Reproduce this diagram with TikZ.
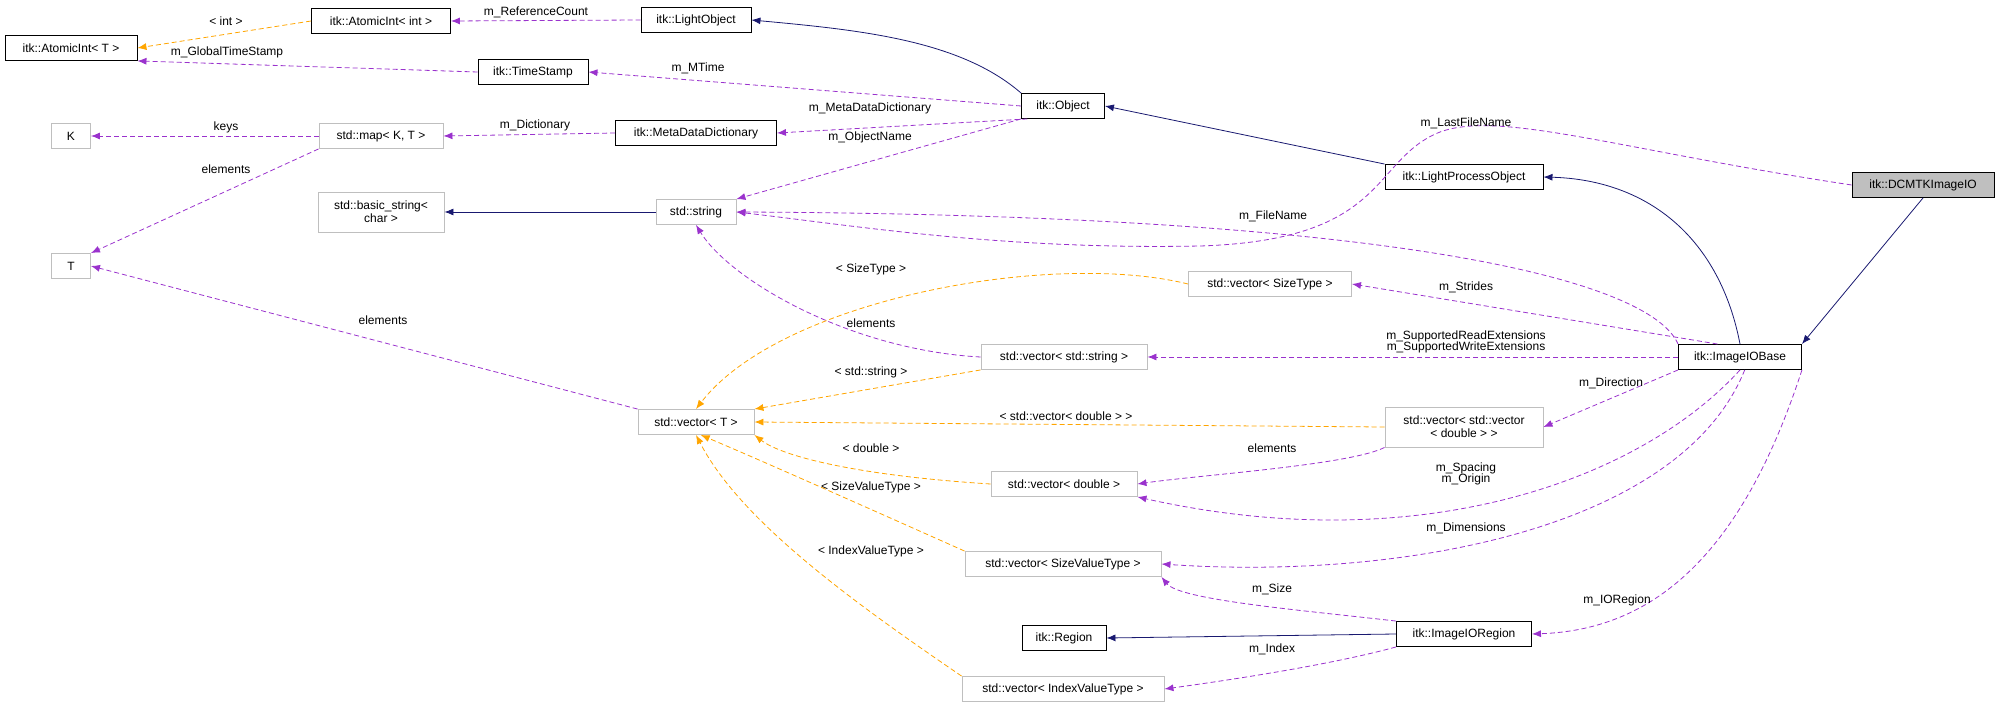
\documentclass[tikz,border=0pt]{standalone}
\usepackage{fontspec}
\setmainfont{Liberation Sans}
\usetikzlibrary{arrows.meta}
\definecolor{pu}{HTML}{9A32CD}
\definecolor{or}{HTML}{FFA500}
\definecolor{nv}{HTML}{191970}
\definecolor{gb}{HTML}{BFBFBF}
\begin{document}
\begin{tikzpicture}[x=1pt,y=-1pt,
  every node/.style={font=\fontsize{12}{13}\selectfont},
  cls/.style={draw=black,line width=0.9pt,fill=white,minimum height=25pt,inner xsep=3pt,inner ysep=2pt,align=center},
  ext/.style={draw=gb,line width=0.9pt,fill=white,minimum height=25pt,inner xsep=3pt,inner ysep=2pt,align=center},
  lbl/.style={inner sep=1pt,align=center},
  tip/.style={-{Latex[length=9pt,width=7pt]}},
  use/.style={tip,draw=pu,dash pattern=on 5pt off 3pt,line width=0.8pt},
  tmpl/.style={tip,draw=or,dash pattern=on 5pt off 3pt,line width=0.8pt},
  inh/.style={tip,draw=nv,line width=0.8pt}]
\useasboundingbox (0,0) rectangle (2000,708);
\node[cls,minimum width=132pt] (ait) at (71,48) {itk::AtomicInt< T >};
\node[cls,minimum width=139pt] (aii) at (381,21) {itk::AtomicInt< int >};
\node[cls,minimum width=110pt] (lo) at (696,20) {itk::LightObject};
\node[cls,minimum width=110pt] (ts) at (533,72) {itk::TimeStamp};
\node[ext,minimum width=39pt] (k) at (71,136) {K};
\node[ext,minimum width=124pt] (map) at (381,136) {std::map< K, T >};
\node[cls,minimum width=161pt] (mdd) at (696,133) {itk::MetaDataDictionary};
\node[ext,minimum width=126pt,minimum height=40pt] (bs) at (381,212) {std::basic\_string<\\char >};
\node[ext,minimum width=80pt] (str) at (696,212) {std::string};
\node[ext,minimum width=39pt] (t) at (71,266) {T};
\node[cls,minimum width=83pt] (obj) at (1063,106) {itk::Object};
\node[cls,minimum width=158pt] (lpo) at (1464,177) {itk::LightProcessObject};
\node[cls,minimum width=142pt,fill=gb] (dc) at (1923,185) {itk::DCMTKImageIO};
\node[ext,minimum width=163pt] (vst) at (1270,284) {std::vector< SizeType >};
\node[cls,minimum width=123pt] (iob) at (1740,357) {itk::ImageIOBase};
\node[ext,minimum width=116pt] (vt) at (696,422) {std::vector< T >};
\node[ext,minimum width=166pt] (vs) at (1064,357) {std::vector< std::string >};
\node[ext,minimum width=158pt,minimum height=40pt] (vvd) at (1464,427) {std::vector< std::vector\\< double > >};
\node[ext,minimum width=146pt] (vd) at (1064,484) {std::vector< double >};
\node[ext,minimum width=196pt] (vsv) at (1063,564) {std::vector< SizeValueType >};
\node[cls,minimum width=84pt] (reg) at (1064,638) {itk::Region};
\node[cls,minimum width=135pt] (ior) at (1464,634) {itk::ImageIORegion};
\node[ext,minimum width=202pt] (viv) at (1063,689) {std::vector< IndexValueType >};

\draw[tmpl] (aii.west) -- (ait.east);
\draw[use] (lo.west) -- (aii.east);
\draw[use] (ts.west) -- (ait.south east);
\draw[inh] (obj.north west) .. controls (960,40) and (860,30) .. (lo.east);
\draw[use] (obj.west) -- (ts.east);
\draw[use] (obj.200) -- (mdd.east);
\draw[use] (obj.south west) -- (str.north east);
\draw[use] (mdd.west) -- (map.east);
\draw[use] (map.west) -- (k.east);
\draw[use] (map.south west) -- (t.north east);
\draw[inh] (str.west) -- (bs.east);
\draw[inh] (lpo.north west) -- (obj.east);
\draw[inh] (iob.north) .. controls (1720,240) and (1650,180) .. (lpo.east);
\draw[inh] (dc.south) -- (iob.north east);
\draw[use] (dc.west) .. controls (1620,150) and (1500,110) .. (1440,132) .. controls (1370,160) and (1390,240) .. (1200,246) .. controls (1000,250) and (850,225) .. (str.east);
\draw[use] (iob.north west) .. controls (1650,280) and (1400,215) .. (str.east);
\draw[use] (iob.150) -- (vst.east);
\draw[use] (iob.west) -- (vs.east);
\draw[use] (iob.south west) -- (vvd.east);
\draw[use] (iob.south) .. controls (1640,480) and (1420,560) .. (vd.south east);
\draw[use] (iob.290) .. controls (1680,530) and (1400,580) .. (vsv.east);
\draw[use] (iob.south east) .. controls (1740,560) and (1650,630) .. (ior.east);
\draw[use] (vs.west) .. controls (850,350) and (730,280) .. (str.south);
\draw[tmpl] (vst.west) .. controls (1050,250) and (780,300) .. (vt.north);
\draw[tmpl] (vs.south west) -- (vt.north east);
\draw[tmpl] (vvd.west) -- (vt.east);
\draw[use] (vvd.south west) .. controls (1350,465) and (1200,475) .. (vd.east);
\draw[tmpl] (vd.west) .. controls (850,475) and (780,455) .. (vt.south east);
\draw[tmpl] (vsv.north west) .. controls (850,500) and (760,460) .. (vt.290);
\draw[tmpl] (viv.north west) .. controls (850,600) and (740,520) .. (vt.south);
\draw[use] (vt.north west) -- (t.east);
\draw[use] (ior.north west) .. controls (1300,610) and (1180,600) .. (vsv.south east);
\draw[inh] (ior.west) -- (reg.east);
\draw[use] (ior.south west) .. controls (1330,665) and (1230,680) .. (viv.east);

\node[lbl] (l1) at (226,21) {< int >};
\node[lbl] (l2) at (536,12) {m\_ReferenceCount};
\node[lbl] (l3) at (227,52) {m\_GlobalTimeStamp};
\node[lbl] (l4) at (698,68) {m\_MTime};
\node[lbl] (l5) at (870,108) {m\_MetaDataDictionary};
\node[lbl] (l6) at (870,137) {m\_ObjectName};
\node[lbl] (l7) at (535,125) {m\_Dictionary};
\node[lbl] (l8) at (226,127) {keys};
\node[lbl] (l9) at (226,169) {elements};
\node[lbl] (l10) at (1466,123) {m\_LastFileName};
\node[lbl] (l11) at (1273,216) {m\_FileName};
\node[lbl] (l12) at (1466,287) {m\_Strides};
\node[lbl] (l13) at (1466,342) {m\_SupportedReadExtensions\\[-2pt]m\_SupportedWriteExtensions};
\node[lbl] (l14) at (1611,383) {m\_Direction};
\node[lbl] (l15) at (1466,474) {m\_Spacing\\[-2pt]m\_Origin};
\node[lbl] (l16) at (1466,528) {m\_Dimensions};
\node[lbl] (l17) at (1617,600) {m\_IORegion};
\node[lbl] (l18) at (871,323) {elements};
\node[lbl] (l19) at (871,269) {< SizeType >};
\node[lbl] (l20) at (871,372) {< std::string >};
\node[lbl] (l21) at (1066,416) {< std::vector< double > >};
\node[lbl] (l22) at (1272,448) {elements};
\node[lbl] (l23) at (871,448) {< double >};
\node[lbl] (l24) at (871,487) {< SizeValueType >};
\node[lbl] (l25) at (871,551) {< IndexValueType >};
\node[lbl] (l26) at (383,320) {elements};
\node[lbl] (l27) at (1272,589) {m\_Size};
\node[lbl] (l28) at (1272,649) {m\_Index};
\end{tikzpicture}
\end{document}
